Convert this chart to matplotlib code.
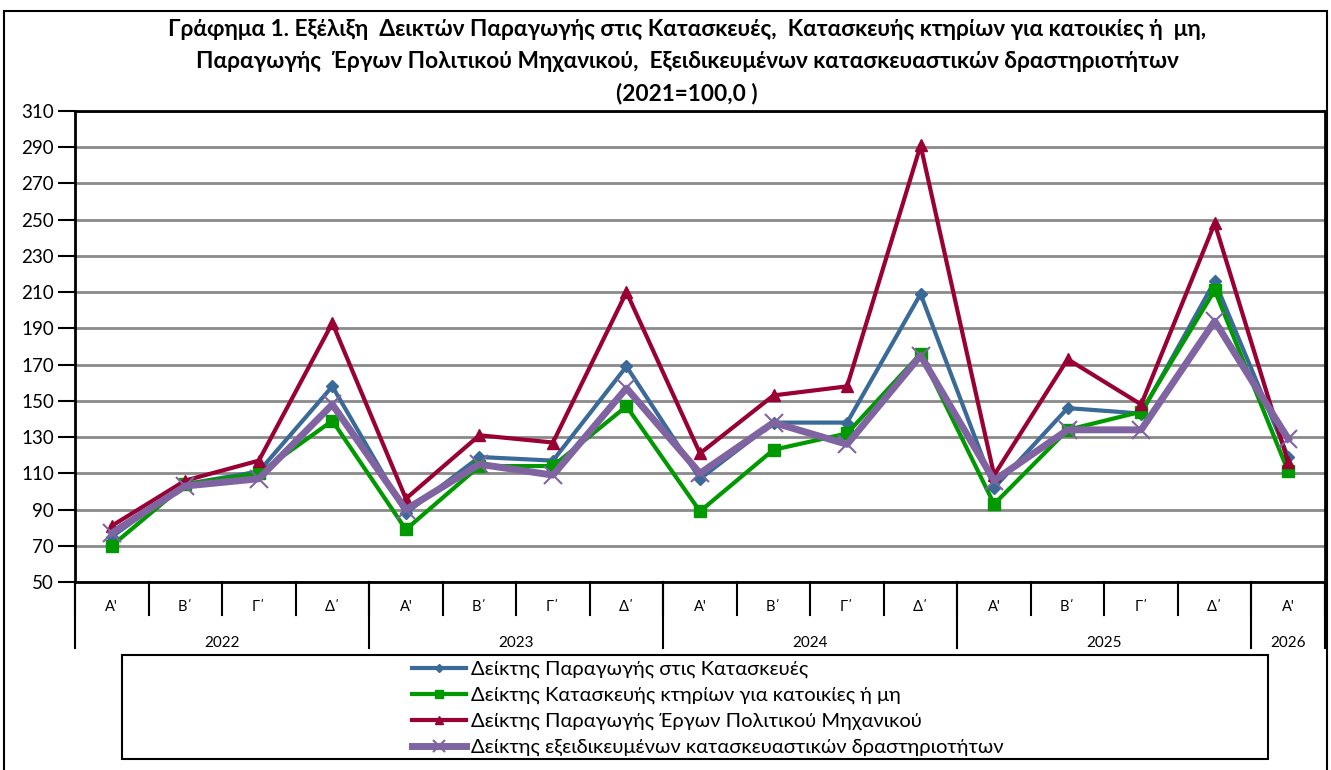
import matplotlib
matplotlib.use("Agg")
import matplotlib.pyplot as plt
import matplotlib.transforms as mtransforms
from matplotlib.patches import Rectangle
import numpy as np

plt.rcParams['font.family'] = ['Lato', 'DejaVu Sans']

quarters = ["Α'", "Β΄", "Γ΄", "Δ΄", "Α'", "Β΄", "Γ΄", "Δ΄", "Α'", "Β΄", "Γ΄", "Δ΄",
            "Α'", "Β΄", "Γ΄", "Δ΄", "Α'"]
years = ["2022", "2023", "2024", "2025", "2026"]
year_counts = [4, 4, 4, 4, 1]

construction = [75, 104, 111, 158, 88, 119, 117, 169, 107, 138, 138, 209, 102, 146, 143, 216, 119]
buildings = [70, 104, 110, 139, 79, 114, 114, 147, 89, 123, 132, 176, 93, 134, 144, 211, 111]
civil_eng = [81, 106, 117, 193, 96, 131, 127, 210, 121, 153, 158, 291, 109, 173, 148, 248, 116]
specialised = [77, 103, 107, 148, 90, 115, 109, 157, 110, 138, 126, 175, 106, 134, 134, 194, 129]

labels = ["Δείκτης Παραγωγής στις Κατασκευές",
          "Δείκτης Κατασκευής κτηρίων για κατοικίες ή μη",
          "Δείκτης Παραγωγής Έργων Πολιτικού Μηχανικού",
          "Δείκτης εξειδικευμένων κατασκευαστικών δραστηριοτήτων"]

W, H = 1331, 770
fig = plt.figure(figsize=(W / 100, H / 100), dpi=100)
ax = fig.add_axes([75 / W, 1 - 582 / H, (1325 - 75) / W, (582 - 111) / H])

x = np.arange(len(quarters))
ax.plot(x, construction, color='#3A6A98', lw=3, marker='D', ms=6, label=labels[0], zorder=3)
ax.plot(x, buildings, color='#009900', lw=3, marker='s', ms=8, label=labels[1], zorder=3)
ax.plot(x, civil_eng, color='#990033', lw=3, marker='^', ms=8, label=labels[2], zorder=3)
ax.plot(x, specialised, color='#8064A2', lw=5, marker='x', ms=13, mew=1.5, label=labels[3], zorder=4)

ax.set_xlim(-0.5, len(quarters) - 0.5)
ax.set_ylim(50, 310)
ax.set_yticks(np.arange(50, 311, 20))
ax.yaxis.grid(True, color='#8a8a8a', lw=2)
ax.set_axisbelow(True)
for s in ax.spines.values():
    s.set_color('black')
    s.set_linewidth(2)
ax.tick_params(axis='y', direction='out', length=12, width=1.5, labelsize=13.5, pad=3)
ax.set_xticks([])

trans = mtransforms.blended_transform_factory(ax.transData, ax.transAxes)
ax_h = 582 - 111
q_bottom = -(615 - 582) / ax_h
y_bottom = -(648 - 582) / ax_h
for i, q in enumerate(quarters):
    ax.text(i, -(607 - 582) / ax_h, q, transform=trans, ha='center', va='center', fontsize=10.5)
boundaries = np.concatenate([[0], np.cumsum(year_counts)]) - 0.5
for b in np.arange(-0.5, len(quarters)):
    ax.plot([b, b], [0, q_bottom], transform=trans, color='black', lw=1.5, clip_on=False)
for b in boundaries:
    ax.plot([b, b], [0, y_bottom], transform=trans, color='black', lw=1.5, clip_on=False)
for k, yr in enumerate(years):
    c = (boundaries[k] + boundaries[k + 1]) / 2
    ax.text(c, -(643 - 582) / ax_h, yr, transform=trans, ha='center', va='center', fontsize=11)

title_lines = ["Γράφημα 1. Εξέλιξη  Δεικτών Παραγωγής στις Κατασκευές,  Κατασκευής κτηρίων για κατοικίες ή  μη,",
               "Παραγωγής  Έργων Πολιτικού Μηχανικού,  Εξειδικευμένων κατασκευαστικών δραστηριοτήτων",
               "(2021=100,0 )"]
for yy, t in zip([30, 62, 93], title_lines):
    fig.text(687 / W, 1 - yy / H, t, ha='center', va='center', fontsize=16.3, fontweight='bold')

# outer chart frame
fig.add_artist(Rectangle((4 / W, -0.05), (1327 - 4) / W, 1 - 11 / H + 0.05, transform=fig.transFigure,
                         fill=False, edgecolor='black', lw=1.5))
# legend box
fig.add_artist(Rectangle((122 / W, 1 - 759 / H), (1268 - 122) / W, (759 - 655) / H, transform=fig.transFigure,
                         fill=False, edgecolor='black', lw=1.5))
handles, labs = ax.get_legend_handles_labels()
fig.legend(handles, labs, loc='center left', bbox_to_anchor=(412 / W, 1 - 708.5 / H), frameon=False,
           fontsize=14.5, handlelength=2.7, handletextpad=0.25, labelspacing=0.42, borderpad=0,
           borderaxespad=0, markerscale=0.7)

fig.savefig('out.png', dpi=100)
